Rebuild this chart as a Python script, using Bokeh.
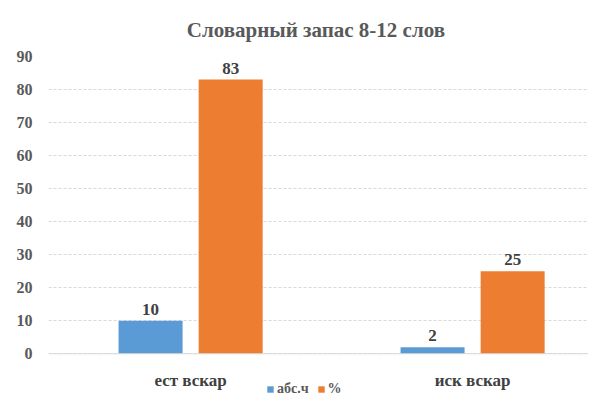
from bokeh.plotting import figure
from bokeh.models import (ColumnDataSource, FixedTicker, Range1d, Legend, LegendItem,
                          LabelSet, Span)
from bokeh.transform import dodge
from bokeh.embed import file_html
from bokeh.resources import INLINE

title_text = "Словарный  запас 8-12 слов"
categories = ["ест вскар", "иск вскар"]
abs_values = [10, 2]
pct_values = [83, 25]
series_names = ["абс.ч", "%"]
y_ticks = [0, 10, 20, 30, 40, 50, 60, 70, 80, 90]

SERIF = "Liberation Serif"
BLUE = "#5B9BD5"
ORANGE = "#ED7D31"

xs = list(range(len(categories)))
src = ColumnDataSource(dict(
    x=xs,
    zero=[0] * len(categories),
    cat=categories,
    abs=abs_values,
    pct=pct_values,
    abs_lbl=[str(v) for v in abs_values],
    pct_lbl=[str(v) for v in pct_values],
))

# frame spans from the top gridline down to the page bottom; the band below 0
# holds the category labels and the legend
p = figure(width=588, height=398, output_backend="svg", toolbar_location=None,
           x_range=Range1d(-0.504, 1.411), y_range=Range1d(-13.55, 90),
           min_border_left=48, min_border_right=0, min_border_top=54,
           min_border_bottom=0, x_axis_location=None)

p.title.text = title_text
p.title.align = "center"
p.title.text_font = SERIF
p.title.text_font_size = "21px"
p.title.text_font_style = "bold"
p.title.text_color = "#595959"
p.title.offset = 0
p.title.standoff = 30

r1 = p.vbar(x=dodge("x", -0.142, range=p.x_range), top="abs", width=0.227,
            source=src, color=BLUE, line_color=None)
r2 = p.vbar(x=dodge("x", 0.142, range=p.x_range), top="pct", width=0.227,
            source=src, color=ORANGE, line_color=None)

for col, off in (("abs", -0.142), ("pct", 0.142)):
    lbl = LabelSet(x=dodge("x", off, range=p.x_range), y=col, text=col + "_lbl",
                   source=src, text_align="center", text_baseline="bottom",
                   y_offset=6, text_font=SERIF, text_font_size="17px",
                   text_font_style="bold", text_color="#404040")
    p.add_layout(lbl)

cat_lbl = LabelSet(x="x", y="zero", text="cat", source=src,
                   text_align="center", text_baseline="middle", y_offset=-27,
                   text_font=SERIF, text_font_size="17px",
                   text_font_style="bold", text_color="#404040")
p.add_layout(cat_lbl)

p.add_layout(Span(location=0, dimension="width", line_color="#d9d9d9",
                  line_width=1))

p.yaxis.ticker = FixedTicker(ticks=y_ticks)
p.yaxis.major_label_text_font = SERIF
p.yaxis.major_label_text_font_size = "16px"
p.yaxis.major_label_text_font_style = "bold"
p.yaxis.major_label_text_color = "#595959"
p.yaxis.major_tick_line_color = None
p.yaxis.minor_tick_line_color = None
p.yaxis.axis_line_color = None
p.yaxis.major_label_standoff = 10

p.xgrid.grid_line_color = None
p.ygrid.grid_line_color = "#d9d9d9"
p.ygrid.grid_line_dash = "3 2"
p.outline_line_color = None

legend = Legend(items=[LegendItem(label=series_names[0], renderers=[r1]),
                       LegendItem(label=series_names[1], renderers=[r2])],
                orientation="horizontal", location=(218, 1),
                label_text_font=SERIF, label_text_font_size="14px",
                label_text_font_style="bold", label_text_color="#595959",
                label_height=14, glyph_width=8, glyph_height=8,
                label_standoff=3, spacing=8,
                padding=0, margin=0, border_line_color=None,
                background_fill_alpha=0)
p.add_layout(legend, "center")

open("out.html", "w").write(file_html(p, INLINE))
